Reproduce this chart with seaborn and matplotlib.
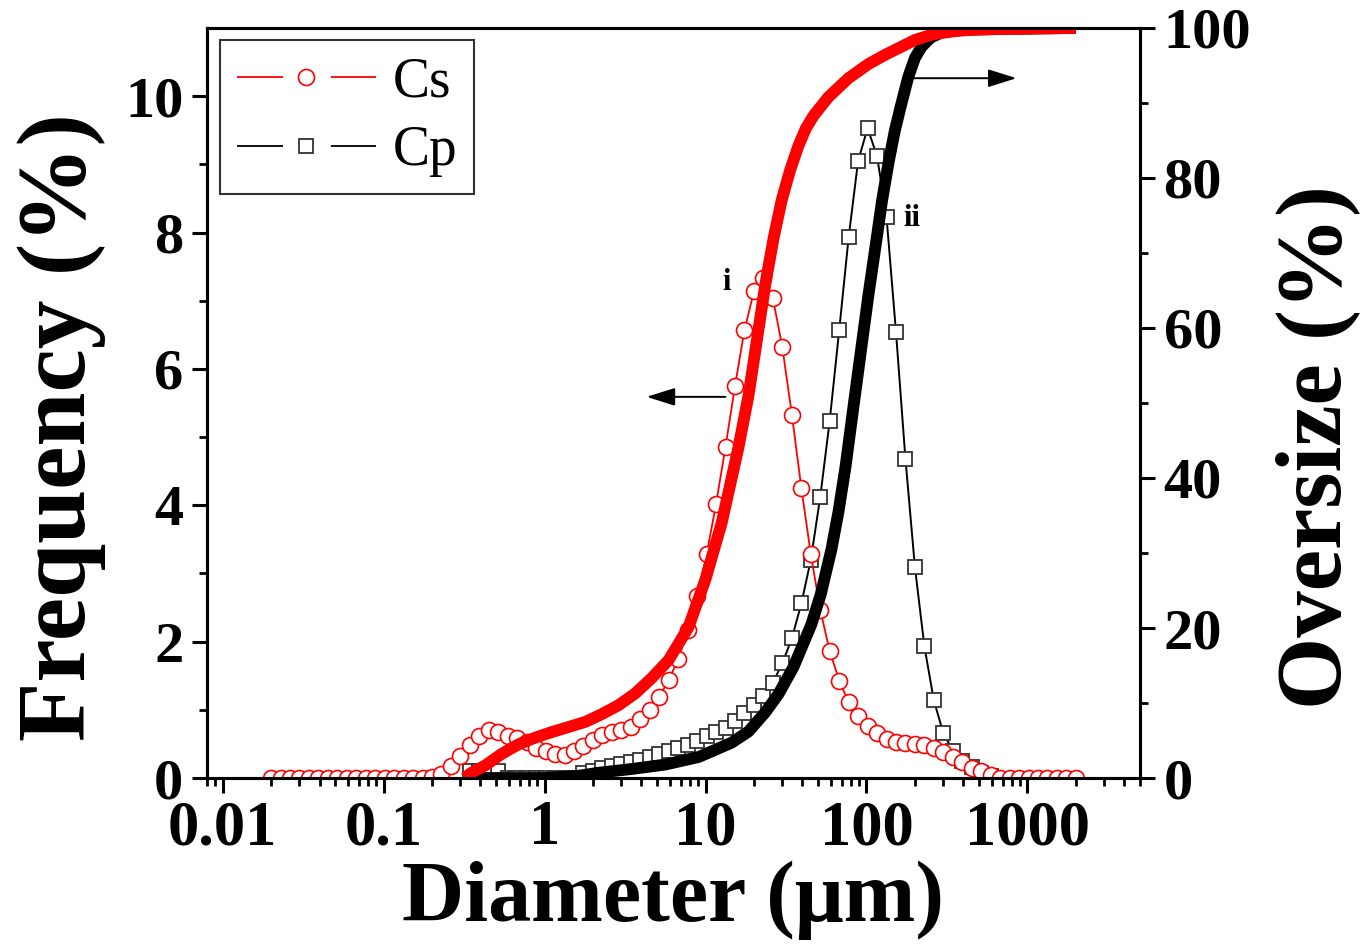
import numpy as np
import matplotlib
matplotlib.use("Agg")
import matplotlib.pyplot as plt
from matplotlib.lines import Line2D
from matplotlib.ticker import LogLocator, NullFormatter
import seaborn as sns

# size classes (um), 17 per decade, 0.02 -> 2000
DIAMETER = [
    0.0200, 0.0229, 0.0262, 0.0300, 0.0344, 0.0394, 0.0451, 0.0516, 0.0591,
    0.0677, 0.0775, 0.0887, 0.1016, 0.1163, 0.1332, 0.1525, 0.1746,
    0.200, 0.229, 0.262, 0.300, 0.344, 0.394, 0.451, 0.516, 0.591,
    0.677, 0.775, 0.887, 1.016, 1.163, 1.332, 1.525, 1.746,
    2.00, 2.29, 2.62, 3.00, 3.44, 3.94, 4.51, 5.16, 5.91,
    6.77, 7.75, 8.87, 10.16, 11.63, 13.32, 15.25, 17.46,
    20.0, 22.9, 26.2, 30.0, 34.4, 39.4, 45.1, 51.6, 59.1,
    67.7, 77.5, 88.7, 101.6, 116.3, 133.2, 152.5, 174.6,
    200, 229, 262, 300, 344, 394, 451, 516, 591,
    677, 775, 887, 1016, 1163, 1332, 1525, 1746,
    2000,
]

# frequency (%) of Cs, one value per size class
CS_FREQ = [
    0, 0, 0, 0, 0, 0, 0, 0, 0, 0, 0, 0, 0, 0, 0, 0, 0,
    0.02, 0.06, 0.18, 0.32, 0.48, 0.62, 0.71, 0.68, 0.61, 0.58, 0.53, 0.44,
    0.39, 0.35, 0.34, 0.39, 0.47,
    0.56, 0.63, 0.67, 0.70, 0.75, 0.87, 1.00, 1.19, 1.44, 1.74, 2.17, 2.67,
    3.28, 4.02, 4.86, 5.75, 6.57,
    7.14, 7.33, 7.04, 6.32, 5.33, 4.25, 3.28, 2.47, 1.86, 1.43, 1.11, 0.91,
    0.76, 0.66, 0.57, 0.53, 0.51,
    0.50, 0.48, 0.44, 0.38, 0.31, 0.23, 0.14, 0.10, 0.05, 0, 0, 0, 0, 0, 0, 0, 0,
    0,
]

# frequency (%) of Cp, size classes 21..76
CP_FIRST = 21
CP_FREQ = [
    0.10, 0.10, 0.10, 0.10,
    0, 0, 0, 0, 0, 0, 0, 0,
    0.08, 0.11, 0.14, 0.17, 0.20, 0.23, 0.27, 0.31, 0.35, 0.39, 0.44, 0.49,
    0.55, 0.61, 0.67, 0.74, 0.83, 0.95,
    1.07, 1.21, 1.40, 1.68, 2.05, 2.56, 3.20, 4.12, 5.24, 6.57, 7.93, 9.05,
    9.53, 9.12, 8.23, 6.54, 4.68,
    3.09, 1.93, 1.14, 0.66, 0.40, 0.25, 0.16, 0.08, 0.03,
]

# cumulative curves (right axis, %)
CS_CUM_D = [0.32, 0.345, 0.43, 0.54, 0.69, 0.88, 1.10, 1.41, 1.80, 2.26, 2.88,
            3.67, 4.62, 5.89, 7.84, 10.0, 12.6, 16.0, 18.5, 20.4, 23.6, 26.5,
            29.7, 33.5, 37.8, 42.0, 46.9, 58.1, 77.3, 103, 130, 158, 200, 254,
            330, 412, 661, 2000]
CS_CUM = [0, 0.6, 1.7, 3.2, 4.5, 5.4, 6.1, 6.8, 7.5, 8.5, 9.7,
          11.3, 13.3, 15.7, 20.1, 26.5, 34.0, 44.0, 51.0, 57.0, 66.0, 72.0,
          77.0, 81.0, 84.3, 86.6, 88.3, 90.8, 93.3, 95.2, 96.4, 97.3, 98.4, 99.1,
          99.5, 99.7, 99.85, 100]

CP_CUM_D = [0.32, 1.0, 1.63, 2.16, 3.47, 5.64, 9.06, 14.5, 18.5, 23.6, 28.4,
            35.2, 45.5, 52.0, 60.6, 67.0, 74.1, 83.0, 93.1, 103, 114, 125, 137,
            150, 163, 182, 200, 220, 250, 293, 412, 2000]
CP_CUM = [0, 0, 0.3, 0.7, 1.2, 1.8, 2.8, 4.7, 6.2, 8.8, 11.2,
          14.8, 20.5, 24.5, 30.5, 35.5, 41.5, 49.5, 57.5, 64.5, 71.0, 77.0, 82.0,
          86.3, 89.5, 93.5, 96.0, 97.5, 98.7, 99.4, 99.8, 100]

X_TICKS = [0.01, 0.1, 1, 10, 100, 1000]
X_TICK_LABELS = ["0.01", "0.1", "1", "10", "100", "1000"]
FREQ_TICKS = [0, 2, 4, 6, 8, 10]
FREQ_MINOR = [1, 3, 5, 7, 9]
OVER_TICKS = [0, 20, 40, 60, 80, 100]
OVER_MINOR = [10, 30, 50, 70, 90]

sns.set_theme(style="ticks")
plt.rcParams["font.family"] = ["Liberation Serif", "DejaVu Serif"]
plt.rcParams["font.weight"] = "bold"
for key in ("text.color", "axes.labelcolor", "xtick.color", "ytick.color",
            "axes.edgecolor"):
    plt.rcParams[key] = "black"

fig = plt.figure(figsize=(13.69, 9.51), dpi=100)
ax = fig.add_axes([0.1512, 0.1819, 0.6815, 0.7887])
ax.set_xscale("log")
ax2 = ax.twinx()

# frequency curves
sns.lineplot(x=DIAMETER[CP_FIRST:CP_FIRST + len(CP_FREQ)], y=CP_FREQ, ax=ax,
             color="black", lw=1.4, marker="s", markersize=10,
             markerfacecolor="white", markeredgecolor="#333333",
             markeredgewidth=1.3, estimator=None, sort=False)
sns.lineplot(x=DIAMETER, y=CS_FREQ, ax=ax, color="red", lw=1.3, marker="o",
             markersize=11.5, markerfacecolor="white", markeredgecolor="red",
             markeredgewidth=1.2, estimator=None, sort=False)

# cumulative curves
sns.lineplot(x=CP_CUM_D, y=CP_CUM, ax=ax2, color="black", lw=8.5,
             estimator=None, sort=False, solid_joinstyle="round",
             solid_capstyle="butt")
sns.lineplot(x=CS_CUM_D, y=CS_CUM, ax=ax2, color="red", lw=8.5,
             estimator=None, sort=False, solid_joinstyle="round",
             solid_capstyle="butt")

ax.set_xlim(0.008, 5000)
ax.set_xticks(X_TICKS)
ax.set_xticklabels(X_TICK_LABELS)
ax.xaxis.set_minor_locator(LogLocator(base=10, subs=np.arange(2, 10), numticks=30))
ax.xaxis.set_minor_formatter(NullFormatter())
ax.set_ylim(0, 11)
ax.set_yticks(FREQ_TICKS)
ax.set_yticks(FREQ_MINOR, minor=True)
ax2.set_ylim(0, 100)
ax2.set_yticks(OVER_TICKS)
ax2.set_yticks(OVER_MINOR, minor=True)

for a in (ax, ax2):
    a.tick_params(which="major", direction="out", length=11, width=2.2,
                  labelsize=42, pad=6, colors="black")
    a.tick_params(which="minor", direction="out", length=6, width=2.0)
    for s in a.spines.values():
        s.set_linewidth(2.2)
        s.set_color("black")
ax.tick_params(axis="x", which="major", labelsize=45, pad=5)
ax.tick_params(top=False, which="both")

ax.set_xlabel("Diameter (\u03bcm)", fontsize=62, fontweight="bold", labelpad=2)
ax.set_ylabel("Frequency (%)", fontsize=70, fontweight="bold", labelpad=14)
ax2.set_ylabel("Oversize (%)", fontsize=67, fontweight="bold", labelpad=17)
ax.yaxis.label.set_y(0.468)
ax2.yaxis.label.set_y(0.441)

# peak labels and direction arrows
ax.text(13.5, 7.27, "i", fontsize=22, fontweight="bold", ha="center", va="center")
ax.text(192, 8.2, "ii", fontsize=22, fontweight="bold", ha="center", va="center")
arrow = dict(arrowstyle="-|>,head_length=0.7,head_width=0.22", color="black",
             lw=1.4, mutation_scale=25, shrinkA=0, shrinkB=0)
ax.annotate("", xy=(4.31, 5.59), xytext=(13.3, 5.59), arrowprops=arrow)
ax2.annotate("", xy=(855, 93.3), xytext=(187, 93.3), arrowprops=arrow)

# legend handles: line broken around the marker, as in the original
gap_style = (0, (25.5, 26.5))
handles = [
    Line2D([], [], color="red", lw=1.3, ls=gap_style, marker="o", ms=11.5,
           mfc="white", mec="red", mew=1.2),
    Line2D([], [], color="black", lw=1.3, ls=gap_style, marker="s", ms=10,
           mfc="white", mec="#333333", mew=1.3),
]
leg = ax2.legend(handles, ["Cs", "Cp"], loc="upper left",
                 bbox_to_anchor=(0.014, 0.984), borderaxespad=0,
                 prop={"family": "Liberation Serif", "weight": "normal", "size": 40},
                 handlelength=2.5, handletextpad=0.3, labelspacing=0.3,
                 borderpad=0.3, fancybox=False, framealpha=1, edgecolor="#333333")
leg.get_frame().set_linewidth(1.5)

fig.savefig("out.png", dpi=100)
